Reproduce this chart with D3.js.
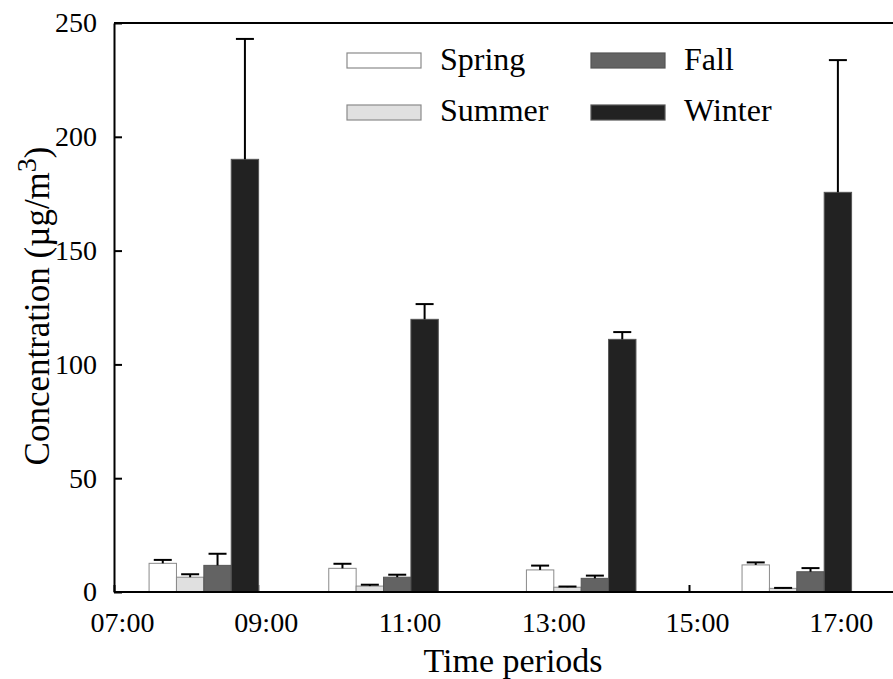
<!DOCTYPE html>
<html>
<head>
<meta charset="utf-8">
<script src="https://cdn.jsdelivr.net/npm/d3@7/dist/d3.min.js"></script>
<style>
  html, body { margin: 0; padding: 0; background: #fff; }
  svg { display: block; font-family: "Liberation Serif", "Times New Roman", serif; }
</style>
</head>
<body>
<svg id="chart" width="893" height="679"></svg>
<script>
// Sampling periods: midpoint of each period, in hours of the day
const periodMid = [8.25, 10.75, 13.5, 16.5];
const seasons = ["Spring", "Summer", "Fall", "Winter"];

// Mean concentration (µg/m³) per season for each period
const springMean = [12.6, 10.4, 9.7, 11.9];
const summerMean = [6.5, 2.6, 2.1, 1.6];
const fallMean   = [11.7, 6.5, 6.0, 8.9];
const winterMean = [190.1, 119.8, 111.0, 175.6];

// Standard deviations (upper error bars)
const springSd = [1.5, 2.0, 1.9, 1.1];
const summerSd = [1.3, 0.6, 0.3, 0.2];
const fallSd   = [5.1, 1.1, 1.2, 1.6];
const winterSd = [52.9, 6.7, 3.2, 58.1];

// Axis ticks
const xTicks = [7, 9, 11, 13, 15, 17];
const xTickLabels = ["07:00", "09:00", "11:00", "13:00", "15:00", "17:00"];
const yTicks = [0, 50, 100, 150, 200, 250];

const seriesMeans = [springMean, summerMean, fallMean, winterMean];
const seriesSd = [springSd, summerSd, fallSd, winterSd];
const fills = ["#ffffff", "#e0e0e0", "#636363", "#222222"];
const strokes = ["#8a8a8a", "#8a8a8a", "#555555", "#555555"];

(function () {
  const serif = '"Liberation Serif", "Times New Roman", serif';
  const svg = d3.select("#chart");
  const plotLeft = 114, plotTop = 23, plotBottom = 592;

  const x = d3.scaleLinear().domain([7, 18]).range([plotLeft, plotLeft + 11 * 71.875]);
  const y = d3.scaleLinear().domain([0, 250]).range([plotBottom, plotTop]);
  const barW = x(7 + 0.381) - x(7);

  // Flatten into rows for drawing
  const rows = [];
  seasons.forEach((s, j) => {
    periodMid.forEach((t, i) => {
      rows.push({ season: s, j, t, v: seriesMeans[j][i], sd: seriesSd[j][i] });
    });
  });

  // X axis ticks (inward), drawn beneath the bars
  const xAxis = d3.axisBottom(x).tickValues(xTicks).tickSizeInner(-7).tickSizeOuter(0)
    .tickFormat((d, i) => xTickLabels[i]);
  const gx = svg.append("g").attr("transform", `translate(0,${plotBottom})`).call(xAxis)
    .attr("font-family", serif);
  gx.select(".domain").remove();
  gx.selectAll(".tick line").attr("stroke", "#000").attr("stroke-width", 2);
  gx.selectAll(".tick text")
    .attr("font-size", 28).attr("fill", "#000")
    .attr("dy", null).attr("y", 40).attr("x", 8);

  // Bars
  svg.append("g").selectAll("rect").data(rows).join("rect")
    .attr("x", d => x(d.t) - 2 * barW + d.j * barW)
    .attr("y", d => y(d.v))
    .attr("width", barW)
    .attr("height", d => y(0) - y(d.v))
    .attr("fill", d => fills[d.j])
    .attr("stroke", d => strokes[d.j])
    .attr("stroke-width", 1);

  // Upper error bars
  const eg = svg.append("g").attr("stroke", "#000").attr("stroke-width", 2);
  rows.forEach(d => {
    const cx = x(d.t) - 2 * barW + d.j * barW + barW / 2;
    eg.append("line").attr("x1", cx).attr("x2", cx).attr("y1", y(d.v)).attr("y2", y(d.v + d.sd));
    eg.append("line").attr("x1", cx - 9).attr("x2", cx + 9)
      .attr("y1", y(d.v + d.sd)).attr("y2", y(d.v + d.sd));
  });

  // Frame: top border and bottom axis line
  svg.append("line").attr("x1", plotLeft).attr("x2", 893).attr("y1", plotTop).attr("y2", plotTop)
    .attr("stroke", "#000").attr("stroke-width", 2);
  svg.append("line").attr("x1", plotLeft).attr("x2", 893).attr("y1", plotBottom).attr("y2", plotBottom)
    .attr("stroke", "#000").attr("stroke-width", 2);

  // Y axis (ticks pointing inward)
  const yAxis = d3.axisLeft(y).tickValues(yTicks).tickSizeInner(-8).tickSizeOuter(0).tickPadding(17);
  const gy = svg.append("g").attr("transform", `translate(${plotLeft},0)`).call(yAxis)
    .attr("font-family", serif);
  gy.select(".domain").attr("stroke", "#000").attr("stroke-width", 2);
  gy.selectAll(".tick line").attr("stroke", "#000").attr("stroke-width", 2);
  gy.selectAll(".tick text").attr("font-size", 28).attr("fill", "#000");

  // Axis titles
  svg.append("text")
    .attr("x", 513).attr("y", 672)
    .attr("text-anchor", "middle").attr("font-size", 34).attr("fill", "#000")
    .text("Time periods");

  const yt = svg.append("text")
    .attr("transform", "translate(49,306) rotate(-90)")
    .attr("text-anchor", "middle").attr("font-size", 35).attr("fill", "#000");
  yt.append("tspan").text("Concentration (µg/m");
  yt.append("tspan").attr("dy", -13).attr("font-size", 28).text("3");
  yt.append("tspan").attr("dy", 13).text(")");

  // Legend
  const legendPos = [
    { bx: 347, by: 53, tx: 440, ty: 70 },
    { bx: 347, by: 105, tx: 440, ty: 121 },
    { bx: 591, by: 53, tx: 684, ty: 70 },
    { bx: 591, by: 105, tx: 684, ty: 121 }
  ];
  const lg = svg.append("g");
  seasons.forEach((s, j) => {
    const p = legendPos[j];
    lg.append("rect").attr("x", p.bx).attr("y", p.by).attr("width", 74).attr("height", 15)
      .attr("fill", fills[j]).attr("stroke", strokes[j]).attr("stroke-width", 1.2);
    lg.append("text").attr("x", p.tx).attr("y", p.ty).attr("font-size", 32).attr("fill", "#000").text(s);
  });
})();
</script>
</body>
</html>
